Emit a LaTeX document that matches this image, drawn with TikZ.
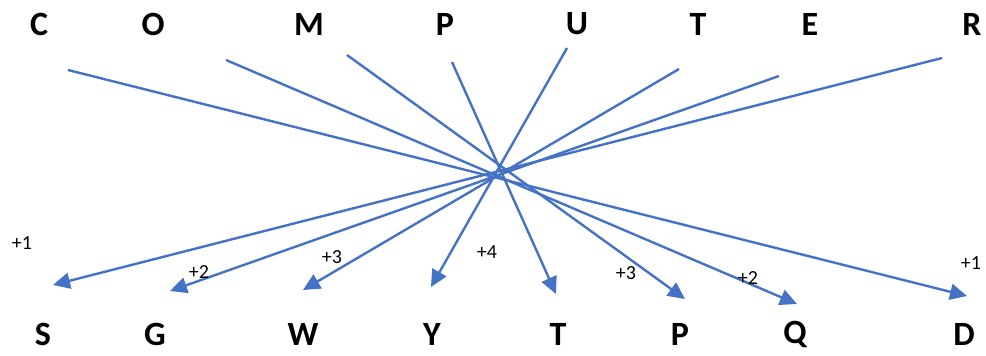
\documentclass[tikz,border=0pt]{standalone}
\usepackage{fontspec}
\setmainfont{Carlito}
\usetikzlibrary{arrows.meta}
\definecolor{officeblue}{HTML}{4472C4}
\tikzset{
  letter/.style={font=\fontsize{34}{36}\selectfont\bfseries, inner sep=0pt, anchor=center},
  shiftlbl/.style={font=\fontsize{20}{22}\selectfont, inner sep=0pt, anchor=center},
  link/.style={draw=officeblue, line width=2.4pt, -{Triangle[length=17pt, width=16pt]}}
}
\begin{document}
\begin{tikzpicture}[x=1pt,y=-1pt]
\useasboundingbox (0,0) rectangle (986,356);
% top word
\node[letter] (tC) at (39,24) {C};
\node[letter] (tO) at (153,24) {O};
\node[letter] (tM) at (309,24) {M};
\node[letter] (tP) at (445,24) {P};
\node[letter] (tU) at (577,24) {U};
\node[letter] (tT) at (698,24) {T};
\node[letter] (tE) at (810,24) {E};
\node[letter] (tR) at (972,24) {R};
% bottom word
\node[letter] (bS) at (43,334) {S};
\node[letter] (bG) at (155,334) {G};
\node[letter] (bW) at (303,334) {W};
\node[letter] (bY) at (432,334) {Y};
\node[letter] (bT) at (558,334) {T};
\node[letter] (bP) at (680,334) {P};
\node[letter] (bQ) at (795,334) {Q};
\node[letter] (bD) at (964,334) {D};
% line starts
\coordinate (sC) at (68,70);
\coordinate (sO) at (226,60);
\coordinate (sM) at (347,55);
\coordinate (sP) at (452,62);
\coordinate (sU) at (567,48);
\coordinate (sT) at (679,69);
\coordinate (sE) at (779,76);
\coordinate (sR) at (942,58);
% arrow tips
\coordinate (eS) at (53,285);
\coordinate (eG) at (170,291);
\coordinate (eW) at (303,290);
\coordinate (eY) at (431,287);
\coordinate (eT) at (556,294);
\coordinate (eP) at (685,299);
\coordinate (eQ) at (797,304);
\coordinate (eD) at (967,296);
% connectors
\draw[link] (sC) -- (eD);
\draw[link] (sO) -- (eQ);
\draw[link] (sM) -- (eP);
\draw[link] (sP) -- (eT);
\draw[link] (sU) -- (eY);
\draw[link] (sT) -- (eW);
\draw[link] (sE) -- (eG);
\draw[link] (sR) -- (eS);
% shift labels
\node[shiftlbl] (l1) at (22,243) {+1};
\node[shiftlbl] (l2) at (199,272) {+2};
\node[shiftlbl] (l3) at (332,257) {+3};
\node[shiftlbl] (l4) at (487,252) {+4};
\node[shiftlbl] (l5) at (626,273) {+3};
\node[shiftlbl] (l6) at (748,278) {+2};
\node[shiftlbl] (l7) at (971,263) {+1};
\end{tikzpicture}
\end{document}
